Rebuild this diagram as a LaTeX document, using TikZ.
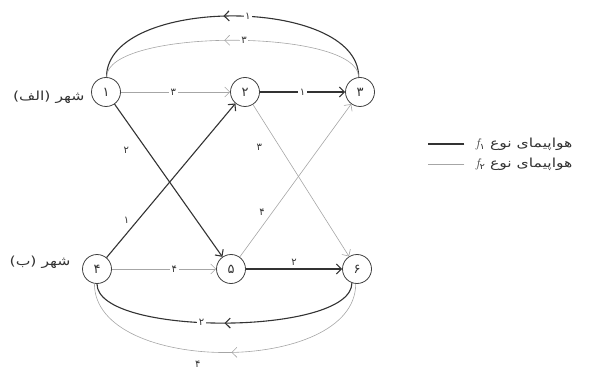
\documentclass[tikz,border=0pt]{standalone}
\usepackage{fontspec}
\newfontfamily\fafont[Script=Arabic]{DejaVu Sans}
\newfontfamily\fawide[Script=Arabic,FakeStretch=1.25]{DejaVu Sans}
\TeXXeTstate=1
\usetikzlibrary{arrows.meta,decorations.markings}
\tikzset{
    city/.style={draw=black!75, circle, minimum size=29pt, inner sep=0pt,
        line width=0.8pt, text=black!80, font=\fafont\fontsize{13}{14}\selectfont},
    citylabel/.style={anchor=east, text=black!80, font=\fawide\fontsize{12.5}{14}\selectfont},
    typeone/.style={draw=black!80, line width=1.1pt},
    typetwo/.style={draw=black!35, line width=0.6pt},
    flight/.style={-{Straight Barb[length=5pt,width=10pt]}},
    cost/.style={font=\fafont\fontsize{10}{11}\selectfont, text=black!80, inner sep=1.5pt},
    gapcost/.style={cost, fill=white},
    midarrow/.style={postaction={decorate}, decoration={markings,
        mark=at position #1 with {\arrow{Straight Barb[length=5pt,width=10pt]}}}}
}

\begin{document}
\begin{tikzpicture}[x=1pt,y=1pt]
\useasboundingbox (0,0) rectangle (609,-379);
% cities
\node[city] (n1) at (106,-92) {۱};
\node[city] (n2) at (245,-92) {۲};
\node[city] (n3) at (360,-92) {۳};
\node[city] (n4) at (97,-269) {۴};
\node[city] (n5) at (231,-269) {۵};
\node[city] (n6) at (357,-269) {۶};
\node[citylabel] (cityA) at (88,-97) {\beginR شهر (الف)\endR};
\node[citylabel] (cityB) at (74,-262) {\beginR شهر (ب)\endR};
% straight flights
\draw[typetwo,flight] (n1) -- node[gapcost,pos=0.48]{۳} (n2);
\draw[typeone,flight] (n2) -- node[gapcost,pos=0.5]{۱} (n3);
\draw[typeone,flight] (n1) -- node[cost,pos=0.3,left=16pt]{۲} (n5);
\draw[typeone,flight] (n4) -- node[cost,pos=0.2,above left=1pt]{۱} (n2);
\draw[typetwo,flight] (n2) -- node[cost,pos=0.28,left=16pt]{۳} (n6);
\draw[typetwo,flight] (n5) -- node[cost,pos=0.25,above left=1pt]{۴} (n3);
\draw[typetwo,flight] (n4) -- node[gapcost,pos=0.6]{۴} (n5);
\draw[typeone,flight] (n5) -- node[cost,above=1pt]{۲} (n6);
% return flights
\draw[typeone,midarrow=0.53] (n3.95) to[out=90,in=90,looseness=0.83]
    node[gapcost,pos=0.46]{۱} (n1.88);
\draw[typetwo,midarrow=0.53] (n3.95) to[out=90,in=90,looseness=0.5]
    node[gapcost,pos=0.47]{۳} (n1.88);
\draw[typeone,midarrow=0.5] (n6.-110) to[out=-90,in=-90,looseness=0.53]
    node[gapcost,pos=0.56]{۲} (n4.-90);
\draw[typetwo,midarrow=0.48] (n6.-95) to[out=-90,in=-90,looseness=0.9]
    node[cost,pos=0.57,below=8pt]{۴} (n4.-100);
% legend
\node[citylabel] (leg1) at (576,-144)
    {\beginR هواپیمای نوع \beginL{\normalfont\itshape f}\raisebox{-2pt}{\fontsize{8}{8}\selectfont ۱}\endL\endR};
\node[citylabel] (leg2) at (576,-164)
    {\beginR هواپیمای نوع \beginL{\normalfont\itshape f}\raisebox{-2pt}{\fontsize{8}{8}\selectfont ۲}\endL\endR};
\draw[typeone] ([xshift=-8pt]leg1.west) -- ++(-36,0);
\draw[typetwo] ([xshift=-8pt]leg2.west) -- ++(-36,0);
\end{tikzpicture}
\end{document}
